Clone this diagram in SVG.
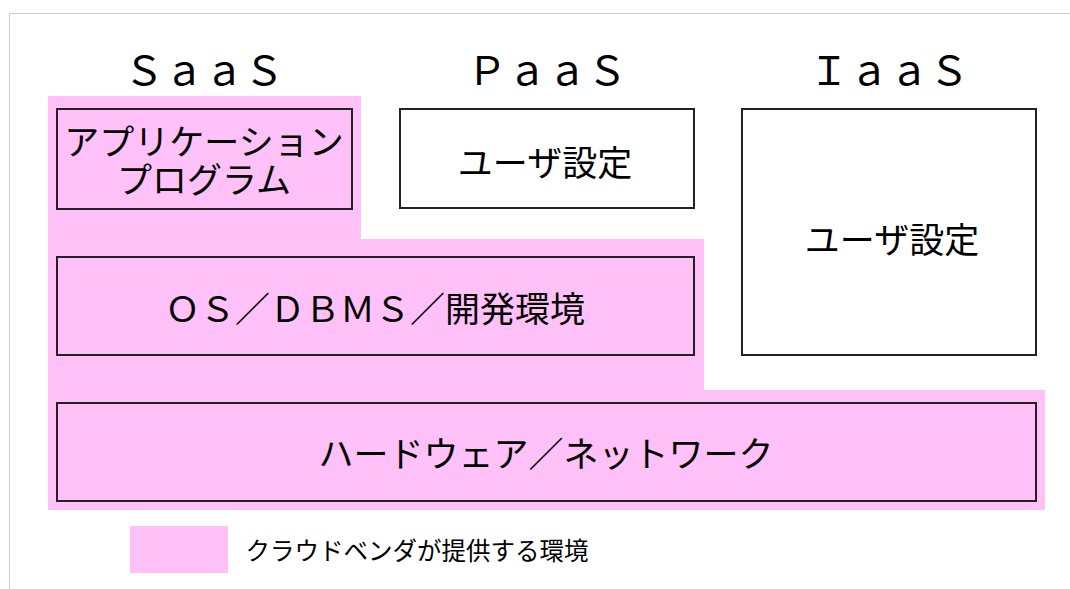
<svg xmlns="http://www.w3.org/2000/svg" width="1070" height="589" viewBox="0 0 1070 589">
<style>
.t{font-family:"Noto Sans CJK JP","Noto Sans CJK SC",sans-serif;fill:#000;text-anchor:middle}
.box{stroke:#222;stroke-width:2}
.pk{fill:#FFC1F8}
</style>
<rect width="1070" height="589" fill="#fff"/>
<path d="M9.5 589 V13.5 H1070" fill="none" stroke="#ccc" stroke-width="1"/>
<g id="vendor-area">
<path class="pk" d="M48 96 H361 V239 H704 V390 H1045 V510 H48 Z"/>
</g>
<g id="headers">
<text class="t" x="204" y="85" font-size="40">ＳａａＳ</text>
<text class="t" x="547" y="85" font-size="40">ＰａａＳ</text>
<text class="t" x="889" y="85" font-size="40">ＩａａＳ</text>
</g>
<g id="app">
<rect class="box" x="57" y="109" width="295" height="100" fill="#FFC1F8"/>
<text class="t" x="204" y="155" font-size="35">アプリケーション</text>
<text class="t" x="204" y="193" font-size="35">プログラム</text>
</g>
<g id="paas-user">
<rect class="box" x="400" y="109" width="294" height="99" fill="#fff"/>
<text class="t" x="545" y="176" font-size="35">ユーザ設定</text>
</g>
<g id="iaas-user">
<rect class="box" x="742" y="109" width="294" height="246" fill="#fff"/>
<text class="t" x="892" y="253" font-size="35">ユーザ設定</text>
</g>
<g id="os">
<rect class="box" x="57" y="257" width="637" height="98" fill="#FFC1F8"/>
<text class="t" x="375" y="322" font-size="35">ＯＳ／ＤＢＭＳ／開発環境</text>
</g>
<g id="hw">
<rect class="box" x="57" y="403" width="979" height="98" fill="#FFC1F8"/>
<text class="t" x="546" y="467" font-size="35">ハードウェア／ネットワーク</text>
</g>
<g id="legend">
<rect class="pk" x="130" y="526" width="98" height="47"/>
<text class="t" x="417" y="560" font-size="24.5">クラウドベンダが提供する環境</text>
</g>
<g id="connectors"/>
</svg>
